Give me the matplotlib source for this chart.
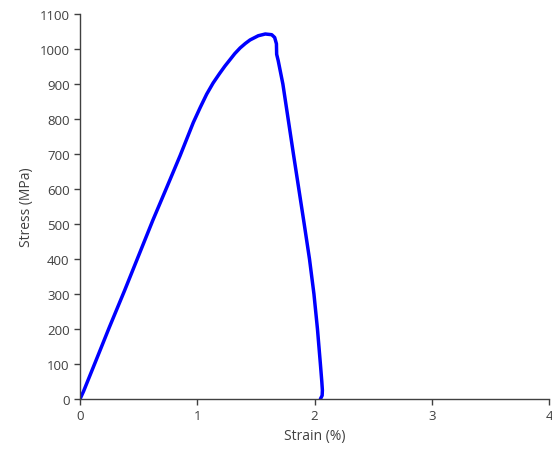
import matplotlib.pyplot as plt

plt.rcParams['font.family'] = ['Open Sans', 'DejaVu Sans']

# stress-strain curve
strain = [0.0, 0.03, 0.13, 0.25, 0.38, 0.50, 0.62, 0.74, 0.853, 0.966, 1.025,
          1.08, 1.135, 1.19, 1.235, 1.28, 1.32, 1.365, 1.41, 1.45, 1.52, 1.58,
          1.635, 1.66, 1.675, 1.677, 1.69, 1.73, 1.775, 1.82, 1.866, 1.912,
          1.957, 1.995, 2.025, 2.05, 2.062, 2.067, 2.065, 2.05]
stress = [0, 22, 105, 205, 310, 410, 510, 605, 695, 790, 833,
          871, 903, 930, 951, 970, 987, 1003, 1016, 1026, 1038, 1043,
          1041, 1033, 1015, 985, 967, 900, 800, 700, 600, 500,
          400, 300, 200, 100, 50, 25, 10, 0]

xticks = [0, 1, 2, 3, 4]
yticks = list(range(0, 1101, 100))

fig = plt.figure(figsize=(5.52, 4.56), dpi=100)
ax = fig.add_axes([0.145, 0.1228, 0.8496, 0.8442])
ax.plot(strain, stress, color='#0000ff', lw=2.5, solid_capstyle='round', solid_joinstyle='round')

ax.set_xlim(0, 4)
ax.set_ylim(0, 1100)
ax.set_xticks(xticks)
ax.set_yticks(yticks)
ax.spines['top'].set_visible(False)
ax.spines['right'].set_visible(False)
for s in ['left', 'bottom']:
    ax.spines[s].set_color('#404040')
    ax.spines[s].set_linewidth(1.0)
ax.tick_params(direction='out', length=4, width=1, color='#404040',
               labelcolor='#404040', labelsize=9.5)
ax.set_xlabel('Strain (%)', fontsize=10, color='#404040')
ax.set_ylabel('Stress (MPa)', fontsize=10, color='#404040')

fig.savefig('out.png', dpi=100)
